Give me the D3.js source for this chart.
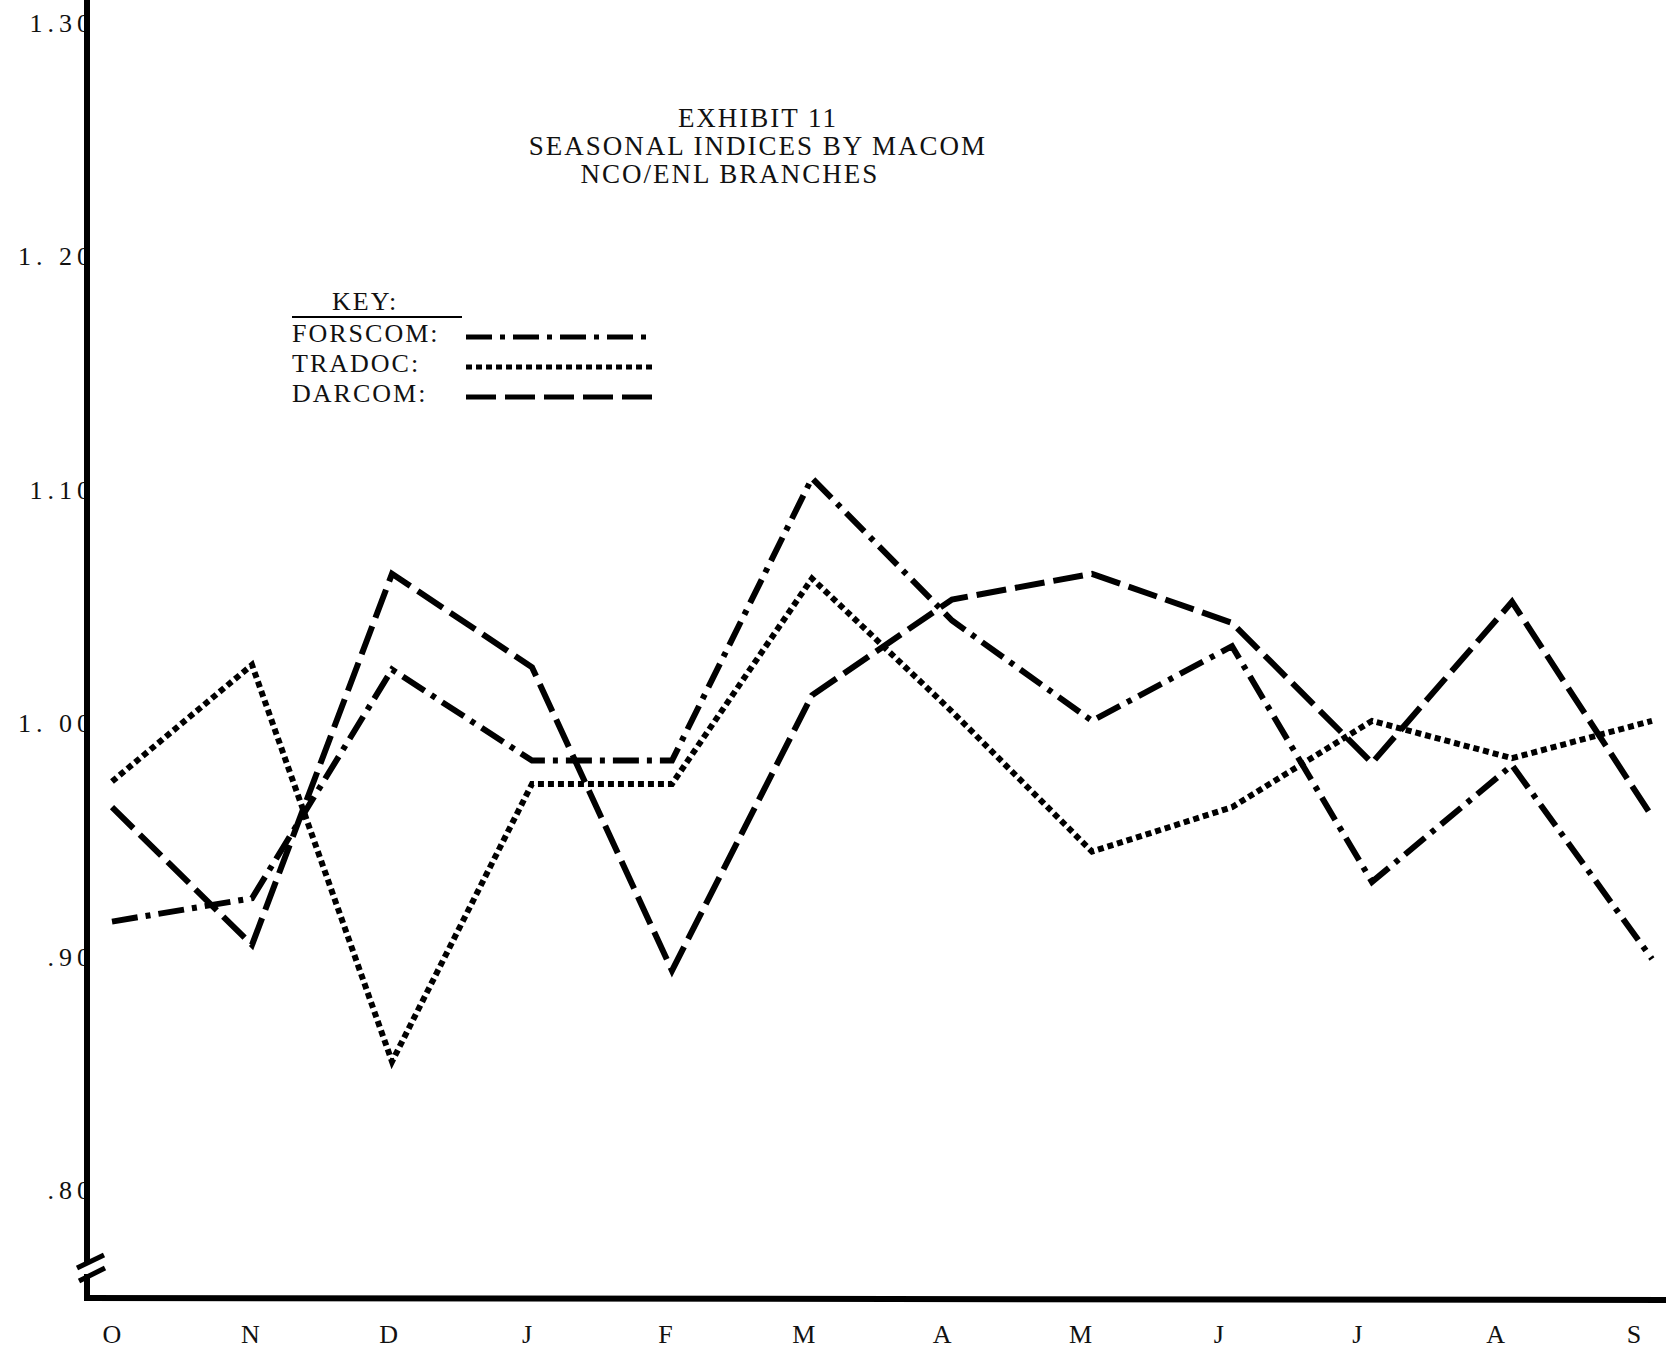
<!DOCTYPE html>
<html>
<head>
<meta charset="utf-8">
<script src="https://cdn.jsdelivr.net/npm/d3@7"></script>
<style>
  body { margin: 0; background: #fff; }
  text { font-family: "Liberation Serif", "DejaVu Serif", serif; fill: #111; }
</style>
</head>
<body>
<div id="chart"></div>
<script>
// Months (Oct..Sep)
const months = ["O", "N", "D", "J", "F", "M", "A", "M", "J", "J", "A", "S"];

// Seasonal indices
const forscom = [0.915, 0.925, 1.023, 0.984, 0.984, 1.105, 1.044, 1.001, 1.033, 0.932, 0.982, 0.899];
const tradoc  = [0.975, 1.025, 0.855, 0.974, 0.974, 1.062, 1.005, 0.945, 0.964, 1.001, 0.985, 1.001];
const darcom  = [0.964, 0.905, 1.064, 1.024, 0.894, 1.012, 1.053, 1.064, 1.043, 0.983, 1.052, 0.960];

const yTicks = [1.30, 1.20, 1.10, 1.00, 0.90, 0.80];
const yTickLabels = ["1.30", "1. 20", "1.10", "1. 00", ".90", ".80"];

const titleLines = ["EXHIBIT 11", "SEASONAL INDICES BY MACOM", "NCO/ENL BRANCHES"];

const series = [
    { name: "FORSCOM:", values: forscom, dash: "26,8,5,8" },
    { name: "TRADOC:",  values: tradoc,  dash: "6,4" },
    { name: "DARCOM:",  values: darcom,  dash: "30,9" }
];

function draw_chart() {
    const width = 1666, height = 1354;
    const axisX = 87, axisY = 1298;

    const svg = d3.select("#chart").append("svg")
        .attr("width", width)
        .attr("height", height);

    svg.append("rect").attr("width", width).attr("height", height).attr("fill", "#fff");

    // Scales
    const y = d3.scaleLinear().domain([0.80, 1.30]).range([1190, 23]);
    const x = d3.scalePoint().domain(d3.range(months.length)).range([112, 1652]);
    // typed month letters drift a bit from the plotted points
    const xLab = d3.scalePoint().domain(d3.range(months.length)).range([112, 1634]);

    // Title
    const titleX = [758, 758, 730];
    svg.append("g").selectAll("text")
        .data(titleLines)
        .join("text")
        .attr("x", (d, i) => titleX[i])
        .attr("y", (d, i) => 127 + i * 28)
        .attr("text-anchor", "middle")
        .attr("font-size", 27)
        .attr("letter-spacing", 2)
        .text(d => d);

    // Y tick labels (partly hidden by the axis, as in the typed original)
    svg.append("g").selectAll("text")
        .data(yTicks)
        .join("text")
        .attr("x", 95)
        .attr("y", d => y(d) + 9)
        .attr("text-anchor", "end")
        .attr("font-size", 26)
        .attr("letter-spacing", 5)
        .text((d, i) => yTickLabels[i]);

    // Month labels
    svg.append("g").selectAll("text")
        .data(months)
        .join("text")
        .attr("x", (d, i) => xLab(i))
        .attr("y", 1343)
        .attr("text-anchor", "middle")
        .attr("font-size", 26)
        .text(d => d);

    // Lines
    const line = d3.line()
        .x((d, i) => x(i))
        .y(d => y(d));

    svg.append("g").selectAll("path")
        .data(series)
        .join("path")
        .attr("d", d => line(d.values))
        .attr("fill", "none")
        .attr("stroke", "#000")
        .attr("stroke-width", 6)
        .attr("stroke-dasharray", d => d.dash);

    // Axes (drawn by hand to look like the ink lines)
    const ax = svg.append("g").attr("stroke", "#000").attr("fill", "none");
    ax.append("line").attr("x1", axisX).attr("x2", axisX).attr("y1", 0).attr("y2", 1262)
        .attr("stroke-width", 6);
    ax.append("line").attr("x1", axisX).attr("x2", axisX).attr("y1", 1274).attr("y2", axisY + 3)
        .attr("stroke-width", 6);
    ax.append("line").attr("x1", axisX - 3).attr("x2", width).attr("y1", axisY).attr("y2", axisY + 2)
        .attr("stroke-width", 6);
    // axis break marks
    ax.append("line").attr("x1", 77).attr("y1", 1268).attr("x2", 104).attr("y2", 1255)
        .attr("stroke-width", 5);
    ax.append("line").attr("x1", 79).attr("y1", 1281).attr("x2", 105).attr("y2", 1268)
        .attr("stroke-width", 5);

    // Key
    const key = svg.append("g");
    key.append("text").attr("x", 332).attr("y", 310).attr("font-size", 26)
        .attr("letter-spacing", 2).text("KEY:");
    key.append("line").attr("x1", 292).attr("x2", 462).attr("y1", 317).attr("y2", 317)
        .attr("stroke", "#000").attr("stroke-width", 2);

    const rows = key.selectAll("g.row")
        .data(series)
        .join("g")
        .attr("class", "row")
        .attr("transform", (d, i) => "translate(0," + (i * 30) + ")");

    rows.append("text")
        .attr("x", 292)
        .attr("y", 342)
        .attr("font-size", 26)
        .attr("letter-spacing", 2)
        .text(d => d.name);

    rows.append("line")
        .attr("x1", 466).attr("x2", 652)
        .attr("y1", 337).attr("y2", 337)
        .attr("stroke", "#000")
        .attr("stroke-width", 5)
        .attr("stroke-dasharray", d => d.dash);
}

draw_chart();
</script>
</body>
</html>
